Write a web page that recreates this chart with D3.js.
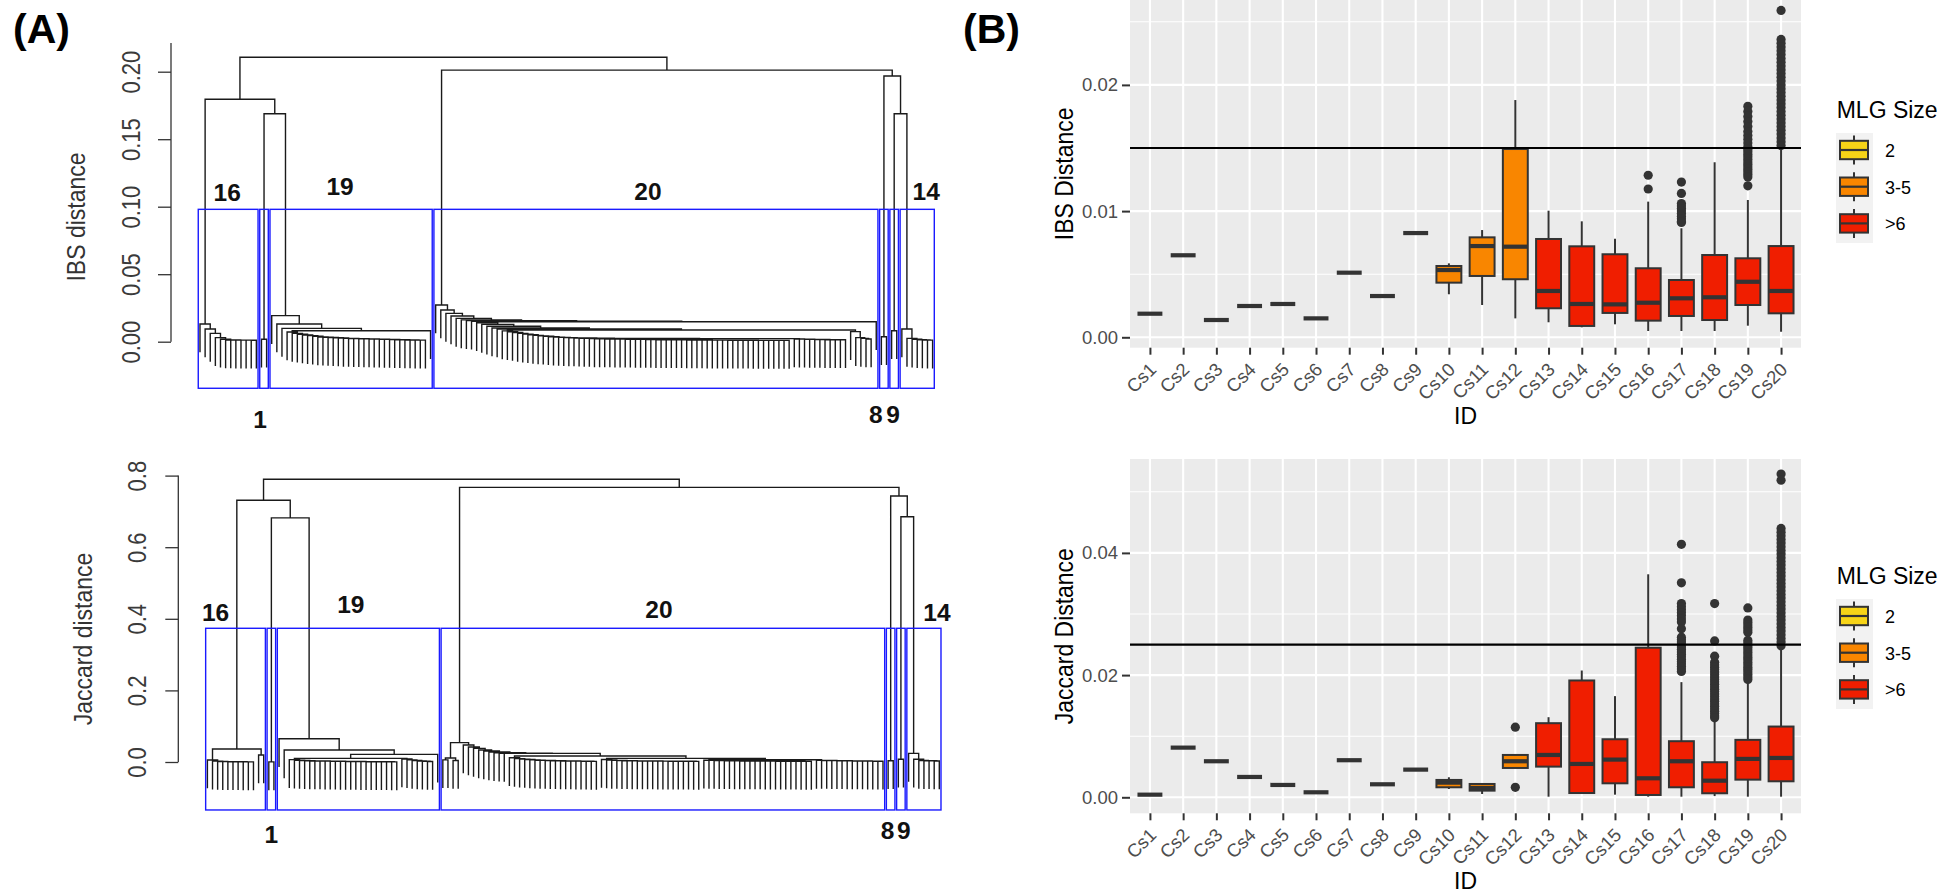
<!DOCTYPE html>
<html><head><meta charset="utf-8">
<script src="https://cdn.jsdelivr.net/npm/d3@7"></script>
<style>
body{margin:0;background:#fff}
svg{display:block}
text{font-family:"Liberation Sans",Arial,sans-serif}
</style>
</head><body>
<svg id="chart" width="1949" height="894"></svg>
<script>
// ---------------- DATA ----------------
// Dendrograms: leaf order is cluster 16, 1, 19, 20, 8, 9, 14.
// Each cluster: merge heights between consecutive leaves (cophenetic heights of neighbours).
const clusterNames = ["16","1","19","20","8","9","14"];

const ibsGaps16 = [0.0131,0.0094,0.0062,0.0030,0.0018,0.0013,0.0013,0.0012,0.0012,0.0012,0.0011];
const ibsGaps1  = [0.0018];
const ibsGaps19 = [0.0193,0.0131,0.0099,0.0072,0.0062,0.0055,0.0050,0.0045,0.0040,0.0035,0.0033,0.0031,0.0029,0.0027,0.0025,0.0024,0.0023,0.0022,0.0021,0.0020,0.0019,0.0018,0.0017,0.0016,0.0015,0.0014,0.0013,0.0013,0.0012,0.0012,0.0081];
const ibsGaps20 = [0.0272,0.0235,0.0210,0.0190,0.0173,0.0162,0.0156,0.0152,
  0.0140,0.0128,0.0115,0.0102,0.0094,
  0.0080,0.0074,0.0068,0.0062,0.0056,0.0051,0.0047,0.0043,0.0040,0.0037,0.0034,0.0032,0.0030,0.0028,0.0027,0.0026,0.0025,0.0024,
  0.0021,0.0021,0.0020,0.0020,0.0019,0.0019,0.0018,0.0018,0.0017,0.0017,0.0016,0.0016,0.0015,0.0015,0.0015,0.0014,0.0014,0.0014,0.0013,0.0013,0.0013,0.0013,0.0012,0.0012,0.0012,0.0012,0.0011,0.0011,0.0011,0.0011,0.0011,0.0010,0.0010,0.0010,0.0010,0.0010,0.0010,0.0010,
  0.0023,
  0.0020,0.0019,0.0018,0.0017,0.0016,0.0016,0.0015,0.0015,0.0014,0.0014,
  0.0087,
  0.0075,0.0030,0.0025,0.0020,
  0.0148];
const ibsGaps8  = [0.0037];
const ibsGaps9  = [0.0081];
const ibsGaps14 = [0.0094,0.0025,0.0018,0.0015,0.0013,0.0012];
const ibsJoins  = [0.1796,0.1689,0.2107,0.2012,0.1968,0.1689];

const jacGaps16 = [0.0056,0.0025,0.0015,0.0010,0.0008,0.0006,0.0005,0.0004,0.0003,0.0363,0.0196];
const jacGaps1  = [0.0003];
const jacGaps19 = [0.065,0.0335,0.0065,0.0050,0.0040,0.0035,
  0.0030,0.0028,0.0026,0.0024,0.0022,0.0020,0.0018,0.0016,0.0014,0.0012,0.0010,0.0009,0.0008,0.0007,0.0006,0.0005,0.0004,
  0.0102,
  0.0085,0.0060,0.0040,0.0030,0.0020,0.0012,
  0.0214];
const jacGaps20 = [0.0060,0.0112,0.0040,0.054,
  0.0475,0.0420,0.0380,0.0335,0.0307,0.0280,0.0260,0.0245,0.0240,
  0.0120,0.0095,0.0080,0.0068,0.0058,0.0050,0.0045,0.0040,0.0036,0.0033,0.0030,0.0028,0.0026,0.0024,0.0022,0.0020,0.0018,
  0.0168,
  0.0070,0.0055,0.0045,0.0040,0.0036,0.0034,0.0032,0.0030,0.0028,0.0027,0.0026,0.0025,0.0024,0.0023,0.0022,0.0021,0.0020,0.0019,0.0018,
  0.0102,
  0.0050,0.0045,0.0040,0.0038,0.0036,0.0034,0.0032,0.0030,0.0029,0.0028,0.0027,0.0026,0.0025,0.0024,0.0023,0.0022,0.0021,0.0020,0.0019,0.0018,0.0017,
  0.0062,
  0.0045,0.0042,0.0040,0.0038,0.0036,0.0034,0.0032,0.0030,0.0028,0.0026,0.0024,0.0022,0.0020];
const jacGaps8  = [0.0036];
const jacGaps9  = [0.0075];
const jacGaps14 = [0.024,0.0075,0.0040,0.0036,0.0036,0.0030];
const jacJoins  = [0.731,0.682,0.790,0.767,0.743,0.685];

const ibsDendroTicks = [0, 0.05, 0.10, 0.15, 0.20];
const ibsDendroTickLabels = ["0.00","0.05","0.10","0.15","0.20"];
const jacDendroTicks = [0, 0.2, 0.4, 0.6, 0.8];
const jacDendroTickLabels = ["0.0","0.2","0.4","0.6","0.8"];

// Boxplots
const ids = ["Cs1","Cs2","Cs3","Cs4","Cs5","Cs6","Cs7","Cs8","Cs9","Cs10","Cs11","Cs12","Cs13","Cs14","Cs15","Cs16","Cs17","Cs18","Cs19","Cs20"];
const mlgSize = ["2","2","2","2","2","2","2","2","2","3-5","3-5","3-5",">6",">6",">6",">6",">6",">6",">6",">6"];
const sizeLevels = ["2","3-5",">6"];
const sizeColors = ["#F7D417","#F98600","#F01E00"];

const ibsMin = [0.00187,0.0065,0.00137,0.00248,0.00264,0.0015,0.00512,0.00327,0.00826,0.00341,0.00256,0.0015,0.00119,0.00079,0.00103,0.0005,0.0005,0.0005,0.00092,0.00044];
const ibsQ1  = [0.00187,0.0065,0.00137,0.00248,0.00264,0.0015,0.00512,0.00327,0.00826,0.00433,0.00486,0.0046,0.0023,0.0009,0.00193,0.00132,0.00169,0.00137,0.00256,0.0019];
const ibsMed = [0.00187,0.0065,0.00137,0.00248,0.00264,0.0015,0.00512,0.00327,0.00826,0.00533,0.00723,0.00718,0.00367,0.00264,0.00261,0.00274,0.00309,0.00317,0.0044,0.00367];
const ibsQ3  = [0.00187,0.0065,0.00137,0.00248,0.00264,0.0015,0.00512,0.00327,0.00826,0.00565,0.00792,0.01492,0.00779,0.00721,0.00658,0.00547,0.00454,0.00652,0.00626,0.00723];
const ibsMax = [0.00187,0.0065,0.00137,0.00248,0.00264,0.0015,0.00512,0.00327,0.00826,0.00586,0.0085,0.0188,0.01003,0.00919,0.00781,0.01075,0.00864,0.01387,0.01088,0.01492];
const ibsOutliers = [[],[],[],[],[],[],[],[],[],[],[],[],[],[],[],
  [0.01284,0.01175],
  [0.0123,0.0114,0.0106,0.0104,0.0102,0.0100,0.0098,0.0096,0.0094,0.0092,0.0091],
  [],
  [0.0183,0.0179,0.0175,0.0171,0.0167,0.0163,0.0160,0.0157,0.0154,0.0151,0.0149,0.0147,0.0145,0.0143,0.0141,0.0139,0.0137,0.0135,0.0133,0.0131,0.0129,0.0127,0.0120],
  [0.0259,0.0236,0.0233,0.0230,0.0227,0.0224,0.0221,0.0218,0.0215,0.0212,0.0209,0.0206,0.0203,0.0200,0.0197,0.0194,0.0191,0.0188,0.0185,0.0182,0.0179,0.0176,0.0173,0.0170,0.0167,0.0164,0.0161,0.0158,0.0155,0.0152]];
const ibsCutoff = 0.015;
const ibsTicks = [0, 0.01, 0.02];
const ibsTickLabels = ["0.00","0.01","0.02"];
const ibsMinorTicks = [0.005, 0.015, 0.025];

const jacMin = [0.00043,0.00813,0.0059,0.00333,0.00202,0.00082,0.00607,0.00213,0.00453,0.00136,0.00054,0.0048,0.0001,0.00054,0.00043,0.0001,0.0001,0.0002,0.0001,0.0001];
const jacQ1  = [0.00043,0.00813,0.0059,0.00333,0.00202,0.00082,0.00607,0.00213,0.00453,0.00164,0.00109,0.0048,0.00502,0.0007,0.00229,0.00038,0.00164,0.00066,0.00289,0.00262];
const jacMed = [0.00043,0.00813,0.0059,0.00333,0.00202,0.00082,0.00607,0.00213,0.00453,0.0024,0.00153,0.0059,0.00693,0.00546,0.00617,0.00311,0.0059,0.00272,0.00628,0.00644];
const jacQ3  = [0.00043,0.00813,0.0059,0.00333,0.00202,0.00082,0.00607,0.00213,0.00453,0.00284,0.00218,0.00693,0.01213,0.01912,0.0095,0.02448,0.00918,0.00574,0.0094,0.01158];
const jacMax = [0.00043,0.00813,0.0059,0.00333,0.00202,0.00082,0.00607,0.00213,0.00453,0.00328,0.00218,0.00693,0.01311,0.02075,0.01656,0.0365,0.01885,0.01284,0.01885,0.02448];
const jacOutliers = [[],[],[],[],[],[],[],[],[],[],[],
  [0.01148,0.00164],
  [],[],[],[],
  [0.0414,0.0351,0.0317,0.0312,0.0307,0.0302,0.0297,0.0292,0.0287,0.0276,0.0262,0.0258,0.0254,0.0250,0.0246,0.0242,0.0238,0.0234,0.0230,0.0226,0.0222,0.0218,0.0214,0.0210,0.0206],
  [0.0317,0.0256,0.0231,0.0221,0.0217,0.0213,0.0209,0.0205,0.0201,0.0197,0.0193,0.0189,0.0185,0.0181,0.0177,0.0173,0.0169,0.0165,0.0161,0.0157,0.0153,0.0149,0.0145,0.0141,0.0137,0.0133,0.0130],
  [0.0310,0.0290,0.0286,0.0282,0.0278,0.0274,0.0270,0.0257,0.0253,0.0249,0.0245,0.0241,0.0237,0.0233,0.0229,0.0225,0.0221,0.0217,0.0213,0.0209,0.0205,0.0201,0.0197,0.0193],
  [0.0529,0.0519,0.0440,0.0434,0.0428,0.0422,0.0416,0.0410,0.0404,0.0398,0.0392,0.0386,0.0380,0.0374,0.0368,0.0362,0.0356,0.0350,0.0344,0.0338,0.0332,0.0326,0.0320,0.0314,0.0308,0.0302,0.0296,0.0290,0.0284,0.0278,0.0272,0.0266,0.0260,0.0254,0.0248]];
const jacCutoff = 0.025;
const jacTicks = [0, 0.02, 0.04];
const jacTickLabels = ["0.00","0.02","0.04"];
const jacMinorTicks = [0.01, 0.03, 0.05];

// ---------------- DRAWING ----------------
const svg = d3.select("#chart");
svg.append("rect").attr("width",1949).attr("height",894).attr("fill","#fff");

function buildTree(gaps, lo, hi) {
  if (lo === hi) return {leaf: true, i: lo};
  let k = lo;
  for (let j = lo; j < hi; j++) if (gaps[j] > gaps[k]) k = j;
  return {leaf: false, h: gaps[k], left: buildTree(gaps, lo, k), right: buildTree(gaps, k + 1, hi)};
}

function drawDendro(P) {
  const g = svg.append("g");
  const gaps = [];
  P.clusters.forEach((c, i) => { gaps.push(...c); if (i < P.joins.length) gaps.push(P.joins[i]); });
  const N = gaps.length + 1;
  const x = d3.scaleLinear().domain([0, N - 1]).range(P.xRange);
  const y = d3.scaleLinear().domain(P.yDomain).range(P.yRange);
  const hang = 0.1 * (d3.max(gaps) - d3.min(gaps));
  const root = buildTree(gaps, 0, N - 1);
  const p = d3.path();
  (function place(n) {
    if (n.leaf) { n.x = x(n.i); return; }
    place(n.left); place(n.right);
    n.x = (n.left.x + n.right.x) / 2;
    const yl = n.left.leaf ? n.h - hang : n.left.h;
    const yr = n.right.leaf ? n.h - hang : n.right.h;
    p.moveTo(n.left.x, y(yl)); p.lineTo(n.left.x, y(n.h));
    p.lineTo(n.right.x, y(n.h)); p.lineTo(n.right.x, y(yr));
  })(root);
  g.append("path").attr("d", p.toString()).attr("fill", "none")
    .attr("stroke", "#1a1a1a").attr("stroke-width", 1.4);

  // rect.hclust boxes
  const sorted = d3.sort(gaps, d3.descending);
  const k = P.clusters.length;
  const rectTop = (sorted[k - 2] + sorted[k - 1]) / 2;
  let start = 0;
  P.clusters.forEach((c, i) => {
    const size = c.length + 1, end = start + size - 1;
    const x0 = x(start - 0.34), x1 = x(end + 0.33);
    g.append("rect").attr("x", x0).attr("y", y(rectTop))
      .attr("width", x1 - x0).attr("height", y(P.usrBottom) - y(rectTop))
      .attr("fill", "none").attr("stroke", "#1a1aff").attr("stroke-width", 1.4);
    const lab = P.labels[i];
    const cy = lab.above ? y(rectTop) + lab.dy : y(P.usrBottom) + lab.dy;
    g.append("text").attr("x", (x0 + x1) / 2 + lab.dx).attr("y", cy)
      .attr("text-anchor", "middle").attr("font-weight", "bold").attr("font-size", 24.5)
      .attr("fill", "#111").text(clusterNames[i]);
    start = end + 1;
  });

  // axis
  const ax = g.append("g").attr("transform", `translate(${P.axisX},0)`)
    .call(d3.axisLeft(y).tickValues(P.ticks).tickSize(13).tickFormat((d, i) => P.tickLabels[i]));
  ax.select(".domain").remove();
  ax.selectAll(".tick line").attr("stroke", "#333").attr("stroke-width", 1.3);
  ax.selectAll(".tick text").attr("x", null).attr("dy", null)
    .attr("transform", `translate(${P.tickLabelOff},0) rotate(-90) scale(0.88,1)`)
    .attr("text-anchor", "middle").attr("font-size", 25)
    .attr("font-family", '"Liberation Sans",Arial,sans-serif').attr("fill", "#3a3a3a");
  ax.append("line").attr("x1", 0).attr("x2", 0).attr("y1", y(0)).attr("y2", y(P.axisTop))
    .attr("stroke", "#333").attr("stroke-width", 1.3);
  g.append("text").attr("transform", `translate(${P.titleX},${P.titleY}) rotate(-90) scale(${P.titleScale},1)`)
    .attr("text-anchor", "middle").attr("font-size", 25).attr("fill", "#333").text(P.title);
}

drawDendro({
  clusters: [ibsGaps16, ibsGaps1, ibsGaps19, ibsGaps20, ibsGaps8, ibsGaps9, ibsGaps14],
  joins: ibsJoins,
  xRange: [200.0, 932.6], yDomain: [0, 0.2], yRange: [341.7, 71.7], usrBottom: -0.0345,
  ticks: ibsDendroTicks, tickLabels: ibsDendroTickLabels, axisX: 171, axisTop: 0.2213, tickLabelOff: -31,
  title: "IBS distance", titleX: 85, titleY: 217, titleScale: 0.92,
  labels: [{above:true,dx:-1,dy:-8.4},{above:false,dx:-4,dy:39.4},{above:true,dx:-11,dy:-14.7},
           {above:true,dx:-8,dy:-9.7},{above:false,dx:-8,dy:35},{above:false,dx:-1,dy:35},{above:true,dx:9,dy:-9}]
});
drawDendro({
  clusters: [jacGaps16, jacGaps1, jacGaps19, jacGaps20, jacGaps8, jacGaps9, jacGaps14],
  joins: jacJoins,
  xRange: [207.4, 939.3], yDomain: [0, 0.8], yRange: [762, 475.6], usrBottom: -0.134,
  ticks: jacDendroTicks, tickLabels: jacDendroTickLabels, axisX: 178.3, axisTop: 0.8, tickLabelOff: -32.7,
  title: "Jaccard distance", titleX: 91.7, titleY: 639, titleScale: 0.92,
  labels: [{above:true,dx:-20,dy:-7.7},{above:false,dx:0,dy:33.3},{above:true,dx:-7.5,dy:-15},
           {above:true,dx:-4,dy:-10.4},{above:false,dx:-3,dy:29.3},{above:false,dx:3,dy:29.3},{above:true,dx:13,dy:-7.7}]
});

// panel tags
svg.append("text").attr("x", 13).attr("y", 43).attr("font-size", 41).attr("font-weight", "bold").attr("fill", "#000").text("(A)");
svg.append("text").attr("x", 963).attr("y", 43).attr("font-size", 41).attr("font-weight", "bold").attr("fill", "#000").text("(B)");

function drawBox(B) {
  const g = svg.append("g");
  const x = d3.scalePoint().domain(ids).range([B.left, B.right]).padding(0.6);
  const y = d3.scaleLinear().domain(B.yDomain).range(B.yRange);
  const color = d3.scaleOrdinal().domain(sizeLevels).range(sizeColors);
  g.append("rect").attr("x", B.left).attr("y", B.top).attr("width", B.right - B.left)
    .attr("height", B.bottom - B.top).attr("fill", "#EBEBEB");
  g.selectAll(".minor").data(B.minor).join("line")
    .attr("x1", B.left).attr("x2", B.right).attr("y1", d => y(d)).attr("y2", d => y(d))
    .attr("stroke", "#fff").attr("stroke-width", 1.1);
  g.selectAll(".major").data(B.ticks).join("line")
    .attr("x1", B.left).attr("x2", B.right).attr("y1", d => y(d)).attr("y2", d => y(d))
    .attr("stroke", "#fff").attr("stroke-width", 2.1);
  g.selectAll(".vmajor").data(ids).join("line")
    .attr("x1", d => x(d)).attr("x2", d => x(d)).attr("y1", B.top).attr("y2", B.bottom)
    .attr("stroke", "#fff").attr("stroke-width", 2.1);

  const bw = x.step() * 0.75;
  const rows = ids.map((id, i) => ({id, size: mlgSize[i], min: B.min[i], q1: B.q1[i], med: B.med[i], q3: B.q3[i], max: B.max[i], out: B.out[i]}));
  const bx = g.selectAll(".box").data(rows).join("g");
  bx.append("line").attr("x1", d => x(d.id)).attr("x2", d => x(d.id))
    .attr("y1", d => y(d.max)).attr("y2", d => y(d.q3)).attr("stroke", "#333").attr("stroke-width", 2);
  bx.append("line").attr("x1", d => x(d.id)).attr("x2", d => x(d.id))
    .attr("y1", d => y(d.q1)).attr("y2", d => y(d.min)).attr("stroke", "#333").attr("stroke-width", 2);
  bx.append("rect").attr("x", d => x(d.id) - bw / 2).attr("width", bw)
    .attr("y", d => y(d.q3)).attr("height", d => y(d.q1) - y(d.q3))
    .attr("fill", d => color(d.size)).attr("stroke", "#333").attr("stroke-width", 2);
  bx.append("line").attr("x1", d => x(d.id) - bw / 2).attr("x2", d => x(d.id) + bw / 2)
    .attr("y1", d => y(d.med)).attr("y2", d => y(d.med)).attr("stroke", "#333").attr("stroke-width", 4.2);
  bx.selectAll("circle").data(d => d.out.map(v => ({id: d.id, v}))).join("circle")
    .attr("cx", d => x(d.id)).attr("cy", d => y(d.v)).attr("r", 4.6).attr("fill", "#333");

  g.append("line").attr("x1", B.left).attr("x2", B.right).attr("y1", y(B.cutoff)).attr("y2", y(B.cutoff))
    .attr("stroke", "#000").attr("stroke-width", 2.2);

  // axes
  const ay = g.append("g").attr("transform", `translate(${B.left},0)`)
    .call(d3.axisLeft(y).tickValues(B.ticks).tickSize(8).tickPadding(4).tickFormat((d, i) => B.tickLabels[i]));
  ay.select(".domain").remove();
  ay.selectAll(".tick line").attr("stroke", "#333").attr("stroke-width", 2);
  ay.selectAll(".tick text").attr("font-size", 18.5).attr("fill", "#4D4D4D")
    .attr("font-family", '"Liberation Sans",Arial,sans-serif');
  const axx = g.append("g").attr("transform", `translate(0,${B.bottom})`)
    .call(d3.axisBottom(x).tickSize(7));
  axx.select(".domain").remove();
  axx.selectAll(".tick line").attr("stroke", "#333").attr("stroke-width", 2);
  axx.selectAll(".tick text").attr("y", null).attr("dy", null)
    .attr("transform", "translate(7,23) rotate(-45)").attr("text-anchor", "end")
    .attr("font-size", 18.5).attr("fill", "#4D4D4D").attr("font-family", '"Liberation Sans",Arial,sans-serif');

  g.append("text").attr("transform", `translate(1073,${(B.top + B.bottom) / 2}) rotate(-90) scale(0.9,1)`)
    .attr("text-anchor", "middle").attr("font-size", 25.5).attr("fill", "#000").text(B.title);
  g.append("text").attr("x", (B.left + B.right) / 2).attr("y", B.bottom + 76)
    .attr("text-anchor", "middle").attr("font-size", 23).attr("fill", "#000").text("ID");

  // legend
  const L = g.append("g").attr("transform", `translate(0,${B.legendDY})`);
  L.append("text").attr("x", 1836.7).attr("y", 118.3).attr("font-size", 23).attr("fill", "#000").text("MLG Size");
  L.append("rect").attr("x", 1836).attr("y", 133).attr("width", 37).attr("height", 110).attr("fill", "#F2F2F2");
  sizeLevels.forEach((lv, i) => {
    const cy = 150 + i * 36.7;
    L.append("line").attr("x1", 1854).attr("x2", 1854).attr("y1", cy - 14.5).attr("y2", cy + 14.5)
      .attr("stroke", "#333").attr("stroke-width", 2);
    L.append("rect").attr("x", 1840).attr("y", cy - 9.2).attr("width", 28).attr("height", 18.4)
      .attr("fill", color(lv)).attr("stroke", "#333").attr("stroke-width", 2);
    L.append("line").attr("x1", 1840).attr("x2", 1868).attr("y1", cy).attr("y2", cy)
      .attr("stroke", "#333").attr("stroke-width", 2.2);
    L.append("text").attr("x", 1885).attr("y", cy + 7).attr("font-size", 18).attr("fill", "#000").text(lv);
  });
}

drawBox({
  left: 1130, right: 1801, top: 0, bottom: 347.7, yDomain: [0, 0.01], yRange: [337.3, 211.1],
  ticks: ibsTicks, tickLabels: ibsTickLabels, minor: ibsMinorTicks, cutoff: ibsCutoff,
  min: ibsMin, q1: ibsQ1, med: ibsMed, q3: ibsQ3, max: ibsMax, out: ibsOutliers,
  title: "IBS Distance", legendDY: 0
});
drawBox({
  left: 1130, right: 1801, top: 459, bottom: 813.3, yDomain: [0, 0.02], yRange: [797.3, 675.1],
  ticks: jacTicks, tickLabels: jacTickLabels, minor: jacMinorTicks, cutoff: jacCutoff,
  min: jacMin, q1: jacQ1, med: jacMed, q3: jacQ3, max: jacMax, out: jacOutliers,
  title: "Jaccard Distance", legendDY: 466
});
</script>
</body></html>
